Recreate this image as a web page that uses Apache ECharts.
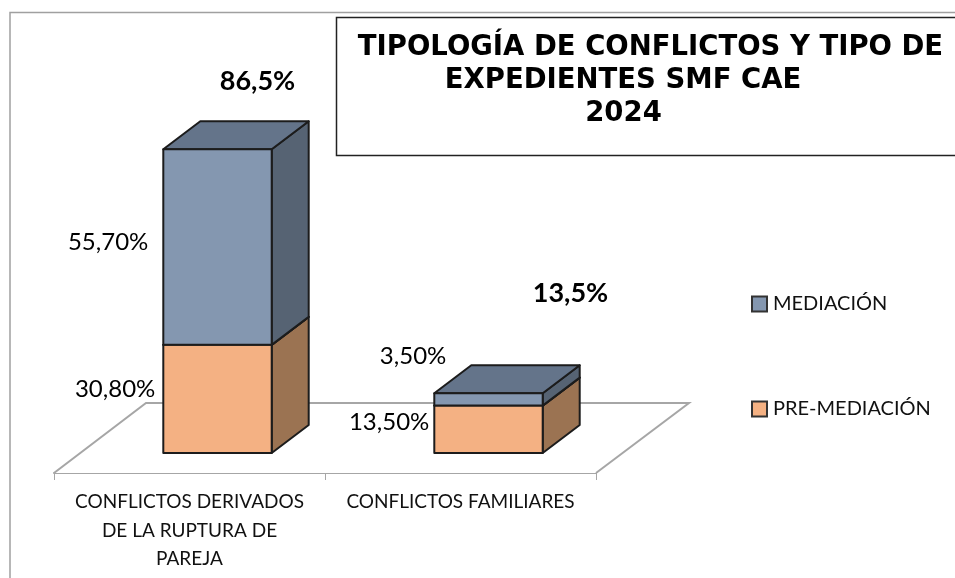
<!DOCTYPE html>
<html>
<head>
<meta charset="utf-8">
<style>html,body{margin:0;padding:0;background:#fff}#c{width:955px;height:578px}</style>
<script src="https://cdn.jsdelivr.net/npm/echarts@6/dist/echarts.min.js"></script>
</head>
<body>
<div id="c"></div>
<script>
const categories = ['CONFLICTOS DERIVADOS DE LA RUPTURA DE PAREJA', 'CONFLICTOS FAMILIARES'];
const preMediacion = [30.8, 13.5];
const mediacion = [55.7, 3.5];
const totalLabels = ['86,5%', '13,5%'];
const titleLines = ['TIPOLOGÍA DE CONFLICTOS Y TIPO DE', 'EXPEDIENTES SMF CAE', '2024'];
const seriesNames = ['MEDIACIÓN', 'PRE-MEDIACIÓN'];

const DEPTH = [37, -28], SHIFT = 28, STROKE = '#1c1c1c', FLOOR = '#a6a6a6';
const LABEL_FONT = '24px Lato, sans-serif', BOLD_FONT = 'bold 27px Lato, sans-serif';
const preNudge = [[-8, -10], [-5, -7]];     // label offset from segment's left-middle
const medNudge = [[-15, -5], [12, -43]];
const totalNudge = [[68, -68], [110, -100]];

const fmt = v => v.toFixed(2).replace('.', ',') + '%';

function box(colors, nudges) {
  return function (params, api) {
    const i = api.value(0), w = api.size([1, 0])[0] * 0.4;
    const a = api.coord([i, api.value(1)]), b = api.coord([i, api.value(2)]);
    const l = a[0] + SHIFT - w / 2, r = l + w, yb = a[1], yt = b[1];
    const dx = DEPTH[0], dy = DEPTH[1];
    const st = f => ({ fill: f, stroke: STROKE, lineWidth: 2, lineJoin: 'round' });
    const poly = (pts, f) => ({ type: 'polygon', shape: { points: pts }, style: st(f) });
    return { type: 'group', children: [
      poly([[r, yb], [r + dx, yb + dy], [r + dx, yt + dy], [r, yt]], colors[1]),
      poly([[l, yt], [r, yt], [r + dx, yt + dy], [l + dx, yt + dy]], colors[2]),
      poly([[l, yb], [r, yb], [r, yt], [l, yt]], colors[0]),
      { type: 'text', x: l + nudges[params.dataIndex][0], y: (yb + yt) / 2 + nudges[params.dataIndex][1],
        style: { text: fmt(api.value(2) - api.value(1)), font: LABEL_FONT, fill: '#000', textAlign: 'right', textVerticalAlign: 'middle' } }
    ] };
  };
}

const starts = preMediacion.map(() => 0);
const preData = preMediacion.map((v, i) => [i, starts[i], v]);
const medData = mediacion.map((v, i) => [i, preMediacion[i], preMediacion[i] + v]);
const totData = mediacion.map((v, i) => [i, preMediacion[i] + v]);

const chart = echarts.init(document.getElementById('c'), null, { renderer: 'canvas' });
chart.setOption({
  animation: false,
  backgroundColor: '#fff',
  grid: { left: 54, width: 542, top: 137, height: 316 },
  title: titleLines.map((t, i) => ({
    text: t, left: [645.5, 618, 618.5][i], top: [29, 62, 95][i], textAlign: 'center',
    textStyle: { fontFamily: '"DejaVu Sans"', fontWeight: 'bold', fontSize: 27.5, color: '#000' }
  })),
  legend: {
    data: seriesNames, orient: 'vertical', left: 746, top: 289, itemWidth: 15, itemHeight: 15, itemGap: 85,
    icon: 'rect', selectedMode: false,
    textStyle: { fontFamily: 'Lato', fontSize: 20, color: '#111', padding: [0, 0, 0, 1] }
  },
  xAxis: {
    type: 'category', data: categories, offset: 20,
    axisLine: { show: true, onZero: false, lineStyle: { color: FLOOR, width: 2 } },
    axisTick: { show: true, alignWithLabel: false, length: 7, lineStyle: { color: FLOOR } },
    axisLabel: { fontFamily: 'Lato', fontSize: 19, color: '#111', lineHeight: 28.5, margin: 15, width: 235, overflow: 'break', interval: 0 }
  },
  yAxis: { type: 'value', min: 0, max: 90, show: false },
  graphic: [
    { type: 'polyline', silent: true, shape: { points: [[10, 578], [10, 12.5], [955, 12.5]] }, style: { fill: null, stroke: '#a0a0a0', lineWidth: 1.5 } },
    { type: 'rect', silent: true, shape: { x: 336.5, y: 17.5, width: 640, height: 138 }, style: { fill: null, stroke: '#222', lineWidth: 1.5 } }
  ],
  series: [
    { type: 'custom', name: 'Floor', silent: true, data: [[0]], encode: { x: 0 },
      renderItem: (p, api) => {
        const c = p.coordSys, yf = c.y + c.height + 20, xl = c.x, xr = c.x + c.width;
        return { type: 'polyline', shape: { points: [[xl, yf], [xl + 92, yf - 70], [xr + 93, yf - 70], [xr, yf]] },
          style: { fill: '#fff', stroke: FLOOR, lineWidth: 2 } };
      } },
    { type: 'custom', name: seriesNames[1], data: preData, encode: { x: 0, y: [1, 2] },
      itemStyle: { color: '#f4b183', borderColor: '#333', borderWidth: 1.5 },
      renderItem: box(['#f4b183', '#9b7352', '#b98560'], preNudge) },
    { type: 'custom', name: seriesNames[0], data: medData, encode: { x: 0, y: [1, 2] },
      itemStyle: { color: '#8497b0', borderColor: '#333', borderWidth: 1.5 },
      renderItem: box(['#8497b0', '#566373', '#64748a'], medNudge) },
    { type: 'custom', name: 'Total', silent: true, data: totData, encode: { x: 0, y: 1 },
      renderItem: (p, api) => {
        const q = api.coord([api.value(0), api.value(1)]), n = totalNudge[p.dataIndex];
        return { type: 'text', x: q[0] + n[0], y: q[1] + n[1],
          style: { text: totalLabels[p.dataIndex], font: BOLD_FONT, fill: '#000', textAlign: 'center', textVerticalAlign: 'middle' } };
      } }
  ]
});
</script>
</body>
</html>
